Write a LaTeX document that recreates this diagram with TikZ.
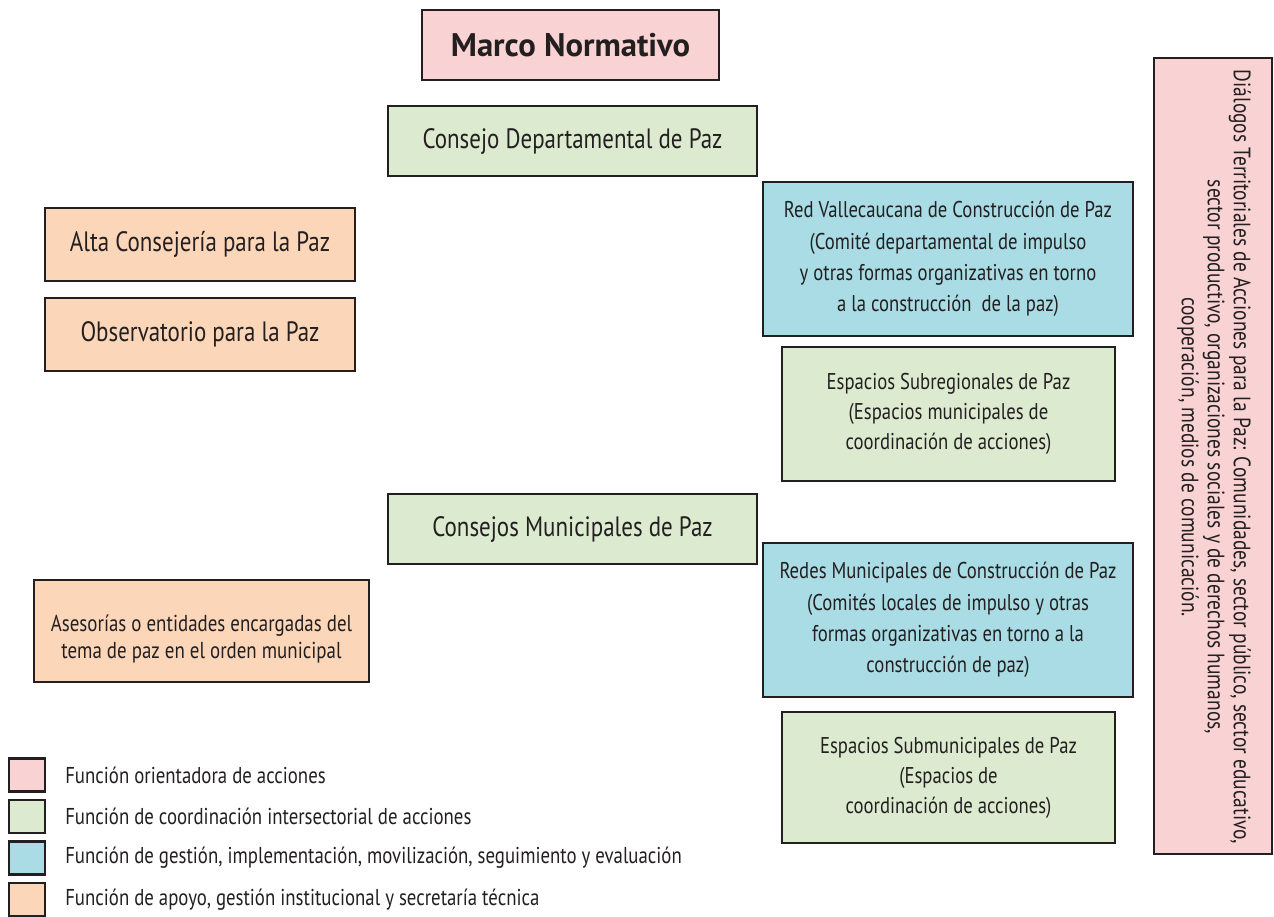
\documentclass[tikz,border=0pt]{standalone}
\usepackage{fontspec}
\setmainfont[FakeStretch=0.82]{PT Sans}
\newfontfamily\boldfam{PT Sans}
\definecolor{ink}{HTML}{231F20}
\definecolor{cpink}{HTML}{F9D3D3}
\definecolor{cgreen}{HTML}{DCEBD0}
\definecolor{cblue}{HTML}{A9DCE5}
\definecolor{corange}{HTML}{FCD6B8}
\tikzset{
  box/.style={draw=ink, line width=2pt, text=ink, align=center, inner sep=2pt},
  bigtxt/.style={font=\fontsize{21}{26}\selectfont},
  midtxt/.style={font=\fontsize{17.1}{23.5}\selectfont},
  legsq/.style={draw=ink, line width=2pt, minimum width=27pt, minimum height=24.75pt, inner sep=0pt},
  legtxt/.style={anchor=west, text=ink, font=\fontsize{17.2}{19}\selectfont, inner sep=0pt}
}
\begin{document}
\begin{tikzpicture}[x=0.75pt,y=-0.75pt]
\useasboundingbox (0,0) rectangle (1274,917);
\node[box, fill=cpink, minimum width=222.75pt, minimum height=52.5pt, font=\boldfam\fontsize{24.5}{28}\selectfont\bfseries] (marco) at (570.5,45) {Marco Normativo};
\node[box, bigtxt, fill=cgreen, minimum width=276.75pt, minimum height=52.5pt] (cdp) at (572.5,141) {Consejo Departamental de Paz};
\node[box, bigtxt, fill=corange, minimum width=232.5pt, minimum height=54.75pt] (alta) at (200,244.5) {Alta Consejería para la Paz};
\node[box, bigtxt, fill=corange, minimum width=232.5pt, minimum height=54.75pt] (obs) at (200,334.5) {Observatorio para la Paz};
\node[box, midtxt, fill=cblue, minimum width=277.5pt, minimum height=115.5pt] (red) at (948,259) {Red Vallecaucana de Construcción de Paz\\(Comité departamental de impulso\\y otras formas organizativas en torno\\a la construcción\ \ de la paz)};
\node[box, fill=cgreen, minimum width=249.75pt, minimum height=100.5pt, font=\fontsize{17.1}{22.5}\selectfont] (subreg) at (948.5,414) {Espacios Subregionales de Paz\\(Espacios municipales de\\coordinación de acciones)};
\node[box, bigtxt, fill=cgreen, minimum width=276.75pt, minimum height=52.5pt] (cmp) at (572.5,529) {Consejos Municipales de Paz};
\node[box, midtxt, fill=cblue, minimum width=277.5pt, minimum height=115.5pt] (redes) at (948,620) {Redes Municipales de Construcción de Paz\\(Comités locales de impulso y otras\\formas organizativas en torno a la\\construcción de paz)};
\node[box, fill=corange, minimum width=251.25pt, minimum height=76.5pt] (ases) at (201.5,631) {};
\node[text=ink, align=center, font=\fontsize{17.3}{20.5}\selectfont, inner sep=0pt] (asest) at (201.5,639) {Asesorías o entidades encargadas del\\tema de paz en el orden municipal};
\node[box, fill=cgreen, minimum width=249.75pt, minimum height=98.25pt, font=\fontsize{17.1}{22.5}\selectfont] (submun) at (948.5,777.5) {Espacios Submunicipales de Paz\\(Espacios de\\coordinación de acciones)};
\node[box, fill=cpink, minimum width=88.5pt, minimum height=597pt] (dial) at (1213,456) {};
\node[text=ink, align=center, rotate=-90, font=\fontsize{17.8}{19.5}\selectfont, inner sep=0pt] (dialt) at (1214,457) {Diálogos Territoriales de Acciones para la Paz: Comunidades, sector público, sector educativo,\\sector productivo, organizaciones sociales y de derechos humanos,\\cooperación, medios de comunicación.};
\node[legsq, fill=cpink] (l1) at (27,775) {};
\node[legsq, fill=cgreen] (l2) at (27,816.5) {};
\node[legsq, fill=cblue] (l3) at (27,858) {};
\node[legsq, fill=corange] (l4) at (27,899.5) {};
\node[legtxt] (t1) at (65,775) {Función orientadora de acciones};
\node[legtxt] (t2) at (65,816.5) {Función de coordinación intersectorial de acciones};
\node[legtxt] (t3) at (65,858) {Función de gestión, implementación, movilización, seguimiento y evaluación};
\node[legtxt] (t4) at (65,899.5) {Función de apoyo, gestión institucional y secretaría técnica};
\end{tikzpicture}
\end{document}
